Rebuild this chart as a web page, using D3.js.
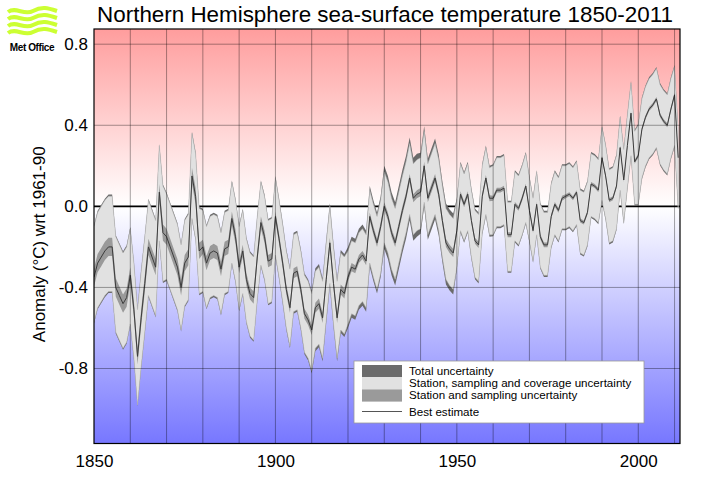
<!DOCTYPE html>
<html>
<head>
<meta charset="utf-8">
<script src="https://cdn.jsdelivr.net/npm/d3@7"></script>
<style>
  body { margin: 0; background: #fff; }
  svg { display: block; font-family: "Liberation Sans", Arial, sans-serif; }
</style>
</head>
<body>
<svg id="chart" width="708" height="504"></svg>
<script>
'use strict';

// annual best estimate, 1850-2011 (degC, wrt 1961-90)
var firstYear = 1850;
var anomaly = [
  -0.35, -0.28, -0.25, -0.22, -0.20, -0.20, -0.40, -0.44, -0.48, -0.45,
  -0.34, -0.51, -0.74, -0.55, -0.38, -0.20, -0.25, -0.30, 0.07, -0.13,
  -0.15, -0.20, -0.25, -0.30, -0.40, -0.28, -0.25, 0.15, 0.05, -0.22,
  -0.20, -0.28, -0.23, -0.22, -0.23, -0.31, -0.21, -0.20, -0.06, -0.15,
  -0.30, -0.22, -0.36, -0.43, -0.45, -0.25, -0.08, -0.15, -0.27, -0.26,
  -0.05, -0.16, -0.28, -0.41, -0.50, -0.33, -0.32, -0.41, -0.53, -0.56,
  -0.61, -0.50, -0.48, -0.55, -0.36, -0.18, -0.38, -0.55, -0.41, -0.43,
  -0.35, -0.30, -0.31, -0.26, -0.24, -0.27, -0.05, -0.12, -0.18, -0.10,
  0.00, -0.05, -0.13, -0.18, -0.10, -0.02, 0.05, 0.14, 0.04, 0.06,
  0.07, 0.20, 0.04, 0.09, 0.14, 0.06, -0.07, -0.18, -0.21, -0.23,
  -0.12, 0.06, 0.01, 0.06, -0.07, -0.17, -0.19, 0.05, 0.14, 0.04,
  0.04, 0.08, 0.08, 0.09, -0.14, -0.14, 0.01, -0.01, 0.04, 0.10,
  -0.02, -0.12, 0.01, -0.15, -0.19, -0.19, -0.05, 0.01, -0.02, 0.04,
  0.05, 0.06, 0.04, 0.07, -0.07, -0.08, -0.03, 0.11, 0.10, 0.08,
  0.24, 0.15, 0.03, 0.04, 0.10, 0.29, 0.13, 0.30, 0.46, 0.22,
  0.25, 0.38, 0.44, 0.48, 0.50, 0.53, 0.45, 0.42, 0.40, 0.48,
  0.55, 0.24
];

// uncertainty widths, one value per decade starting 1850
var decades      = [1850, 1860, 1870, 1880, 1890, 1900, 1910, 1920, 1930, 1940, 1950, 1960, 1970, 1980, 1990, 2000, 2010];
var coverageUp   = [0.25, 0.23, 0.21, 0.18, 0.20, 0.19, 0.18, 0.13, 0.17, 0.17, 0.15, 0.16, 0.16, 0.15, 0.15, 0.15, 0.14];
var coverageLow  = [0.22, 0.24, 0.21, 0.22, 0.21, 0.19, 0.20, 0.23, 0.18, 0.18, 0.18, 0.18, 0.15, 0.16, 0.21, 0.24, 0.25];
var samplingHalf = [0.045, 0.04, 0.04, 0.035, 0.03, 0.025, 0.025, 0.02, 0.02, 0.02, 0.015, 0.012, 0.012, 0.01, 0.01, 0.01, 0.01];
var totalExtra   = [0.008, 0.008, 0.008, 0.008, 0.008, 0.01, 0.015, 0.02, 0.03, 0.025, 0.01, 0.008, 0.008, 0.008, 0.008, 0.008, 0.008];

var yTicks = [0.8, 0.4, 0.0, -0.4, -0.8];
var xTicks = [1850, 1900, 1950, 2000];

var legendItems = [
  'Total uncertainty',
  'Station, sampling and coverage uncertainty',
  'Station and sampling uncertainty',
  'Best estimate'
];

var colors = {
  total: '#6b6b6b',
  coverage: '#e1e1e1',
  sampling: '#9a9a9a',
  line: '#3c3c3c'
};

var svg = d3.select('#chart');
var margin = { left: 94, right: 28, top: 29, bottom: 60.5 };
var width = 708 - margin.left - margin.right;
var height = 504 - margin.top - margin.bottom;

var x = d3.scaleLinear().domain([1850, 2011.5]).range([margin.left, margin.left + width]);
var y = d3.scaleLinear().domain([-1.17, 0.875]).range([margin.top + height, margin.top]);

var data = anomaly.map(function(v, i) {
  var year = firstYear + i;
  var d = Math.min(Math.floor((year - 1850) / 10), decades.length - 1);
  return {
    year: year,
    value: v,
    covHi: v + coverageUp[d],
    covLo: v - coverageLow[d],
    totHi: v + coverageUp[d] + totalExtra[d],
    totLo: v - coverageLow[d] - totalExtra[d],
    smpHi: v + samplingHalf[d],
    smpLo: v - samplingHalf[d]
  };
});

// background gradient, red above zero, blue below
var defs = svg.append('defs');
var grad = defs.append('linearGradient')
  .attr('id', 'bg')
  .attr('gradientUnits', 'userSpaceOnUse')
  .attr('x1', 0).attr('x2', 0)
  .attr('y1', y.range()[1]).attr('y2', y.range()[0]);
var zeroOffset = (y(0) - y.range()[1]) / height;
grad.append('stop').attr('offset', 0).attr('stop-color', '#ff9d9d');
grad.append('stop').attr('offset', zeroOffset).attr('stop-color', '#ffffff');
grad.append('stop').attr('offset', 1).attr('stop-color', '#7777ff');

defs.append('clipPath').attr('id', 'plot-clip')
  .append('rect')
  .attr('x', margin.left).attr('y', margin.top)
  .attr('width', width).attr('height', height);

svg.append('rect')
  .attr('x', margin.left).attr('y', margin.top)
  .attr('width', width).attr('height', height)
  .attr('fill', 'url(#bg)');

var plot = svg.append('g').attr('clip-path', 'url(#plot-clip)');

// zero line sits under the bands
plot.append('line')
  .attr('x1', margin.left).attr('x2', margin.left + width)
  .attr('y1', y(0)).attr('y2', y(0))
  .attr('stroke', '#000').attr('stroke-width', 1.6);

function band(lo, hi) {
  return d3.area()
    .x(function(d) { return x(d.year); })
    .y0(function(d) { return y(d[lo]); })
    .y1(function(d) { return y(d[hi]); });
}

plot.append('path').datum(data)
  .attr('d', band('totLo', 'totHi'))
  .attr('fill', colors.total);

plot.append('path').datum(data)
  .attr('d', band('covLo', 'covHi'))
  .attr('fill', colors.coverage)
  .attr('stroke', '#b4b4b4').attr('stroke-width', 0.5);

plot.append('path').datum(data)
  .attr('d', band('smpLo', 'smpHi'))
  .attr('fill', colors.sampling);

plot.append('path').datum(data)
  .attr('d', d3.line()
    .x(function(d) { return x(d.year); })
    .y(function(d) { return y(d.value); }))
  .attr('fill', 'none')
  .attr('stroke', colors.line)
  .attr('stroke-width', 1);

// grid lines drawn over the bands
var grid = plot.append('g')
  .attr('stroke', '#000')
  .attr('stroke-opacity', 0.45)
  .attr('stroke-width', 0.8);

grid.selectAll('line.v')
  .data(d3.range(1860, 2011, 10))
  .enter().append('line')
  .attr('class', 'v')
  .attr('x1', function(d) { return x(d); })
  .attr('x2', function(d) { return x(d); })
  .attr('y1', margin.top).attr('y2', margin.top + height);

grid.selectAll('line.h')
  .data(yTicks.filter(function(d) { return d !== 0; }))
  .enter().append('line')
  .attr('class', 'h')
  .attr('x1', margin.left).attr('x2', margin.left + width)
  .attr('y1', function(d) { return y(d); })
  .attr('y2', function(d) { return y(d); });

// frame
svg.append('rect')
  .attr('x', margin.left).attr('y', margin.top)
  .attr('width', width).attr('height', height)
  .attr('fill', 'none').attr('stroke', '#000').attr('stroke-width', 1.2);

// axes (plain hyphen for negatives, as in the original)
var yAxis = d3.axisLeft(y)
  .tickValues(yTicks)
  .tickSize(0)
  .tickPadding(6)
  .tickFormat(function(d) { return d.toFixed(1); });

var gy = svg.append('g')
  .attr('transform', 'translate(' + margin.left + ',0)')
  .call(yAxis);
gy.select('.domain').remove();
gy.selectAll('text')
  .attr('font-family', '"Liberation Sans", Arial, sans-serif')
  .attr('font-size', 17).attr('fill', '#000');

var xAxis = d3.axisBottom(x)
  .tickValues(xTicks)
  .tickSize(0)
  .tickPadding(11)
  .tickFormat(d3.format('d'));

var gx = svg.append('g')
  .attr('transform', 'translate(0,' + (margin.top + height) + ')')
  .call(xAxis);
gx.select('.domain').remove();
gx.selectAll('text')
  .attr('font-family', '"Liberation Sans", Arial, sans-serif')
  .attr('font-size', 17).attr('fill', '#000');

// titles
svg.append('text')
  .attr('x', 385).attr('y', 22)
  .attr('text-anchor', 'middle')
  .attr('font-size', 22.4)
  .text('Northern Hemisphere sea-surface temperature 1850-2011');

svg.append('text')
  .attr('transform', 'translate(45,' + (margin.top + height / 2 + 8) + ') rotate(-90)')
  .attr('text-anchor', 'middle')
  .attr('font-size', 17)
  .text('Anomaly (\u00b0C) wrt 1961-90');

// Met Office logo
var logo = svg.append('g').attr('fill', 'none').attr('stroke', '#ccff33').attr('stroke-width', 4);
[0, 7, 14, 21].forEach(function(dy) {
  logo.append('path')
    .attr('d', 'M8,' + (12 + dy) + ' C16,' + (6 + dy) + ' 24,' + (16 + dy) + ' 33,' + (11 + dy) +
      ' S48,' + (8 + dy) + ' 57,' + (11 + dy));
});
svg.append('text')
  .attr('x', 32).attr('y', 51)
  .attr('text-anchor', 'middle')
  .attr('font-size', 10)
  .attr('font-weight', 'bold')
  .attr('letter-spacing', -0.4)
  .text('Met Office');

// legend
var legend = svg.append('g').attr('transform', 'translate(354,361)');
legend.append('rect')
  .attr('width', 290).attr('height', 62)
  .attr('fill', '#fff').attr('stroke', '#999').attr('stroke-width', 0.8);

var rowH = 12.2;
var swatchFills = [colors.total, colors.coverage, colors.sampling];
legend.selectAll('rect.swatch')
  .data(swatchFills)
  .enter().append('rect')
  .attr('class', 'swatch')
  .attr('x', 8).attr('y', function(d, i) { return 4 + i * rowH; })
  .attr('width', 40).attr('height', rowH)
  .attr('fill', function(d) { return d; });

legend.append('line')
  .attr('x1', 8).attr('x2', 48)
  .attr('y1', 50.5).attr('y2', 50.5)
  .attr('stroke', '#555').attr('stroke-width', 1);

legend.selectAll('text')
  .data(legendItems)
  .enter().append('text')
  .attr('x', 55)
  .attr('y', function(d, i) { return i < 3 ? 13.5 + i * rowH : 54.5; })
  .attr('font-size', 11.6)
  .text(function(d) { return d; });
</script>
</body>
</html>
